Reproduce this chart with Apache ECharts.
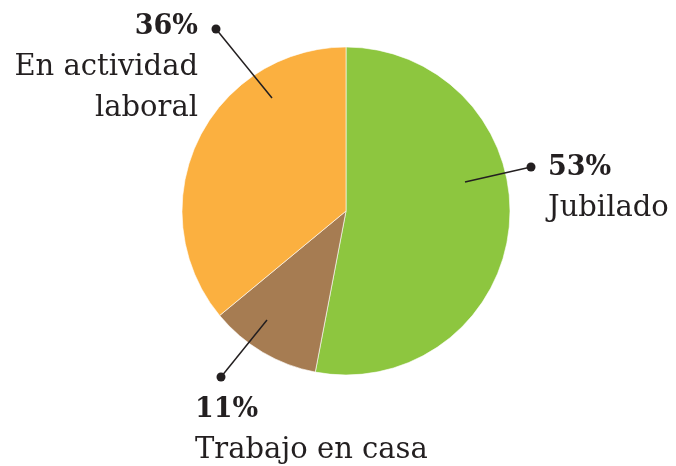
<!DOCTYPE html>
<html>
<head>
<meta charset="utf-8">
<script src="https://cdn.jsdelivr.net/npm/echarts@6/dist/echarts.min.js"></script>
<style>
  html, body { margin: 0; padding: 0; background: #fff; }
  #chart { width: 676px; height: 466px; }
</style>
</head>
<body>
<div id="chart"></div>
<script>
// datos
const categories = ['Jubilado', 'Trabajo en casa', 'En actividad\nlaboral'];
const values = [53, 11, 36];
const colors = ['#8DC63F', '#A67C52', '#FBB040'];

// geometria del pastel
const CX = 346, CY = 211, R = 164;
const ink = '#231F20';

// anotaciones relativas al centro: inicio de linea, punto, texto
const anno = [
   { inner: [119, -29], dot: [185, -44], label: [202, -64], align: 'left' },
   { inner: [-79, 109], dot: [-125, 166], label: [-151, 178], align: 'left' },
   { inner: [-74, -113], dot: [-130, -182], label: [-148, -205], align: 'right' }
];

const chart = echarts.init(document.getElementById('chart'));

const lines = [];
anno.forEach((a) => {
   lines.push({
      type: 'line',
      z: 100,
      shape: { x1: CX + a.inner[0], y1: CY + a.inner[1], x2: CX + a.dot[0], y2: CY + a.dot[1] },
      style: { stroke: ink, lineWidth: 1.5 }
   });
   lines.push({
      type: 'circle',
      z: 101,
      shape: { cx: CX + a.dot[0], cy: CY + a.dot[1], r: 4.5 },
      style: { fill: ink }
   });
});

const option = {
   animation: false,
   series: [
      {
         type: 'pie',
         z: 1,
         center: [CX, CY],
         radius: R,
         startAngle: 90,
         clockwise: true,
         avoidLabelOverlap: false,
         itemStyle: { borderColor: '#fff', borderWidth: 0.6 },
         data: categories.map((name, i) => ({
            name,
            value: values[i],
            itemStyle: { color: colors[i] }
         })),
         label: {
            show: true,
            formatter: (p) => '{p|' + p.value + '%}\n{n|' + p.name.split('\n').join('}\n{n|') + '}',
            rich: {
               p: { fontFamily: 'DejaVu Serif', fontWeight: 'bold', fontSize: 27, color: ink, lineHeight: 41 },
               n: { fontFamily: 'DejaVu Serif', fontSize: 29, color: ink, lineHeight: 41 }
            }
         },
         labelLine: { show: false },
         labelLayout: (params) => {
            const a = anno[params.dataIndex];
            return {
               x: CX + a.label[0],
               y: CY + a.label[1],
               align: a.align,
               verticalAlign: 'top'
            };
         }
      }
   ],
   graphic: { elements: lines }
};

chart.setOption(option);
</script>
</body>
</html>
